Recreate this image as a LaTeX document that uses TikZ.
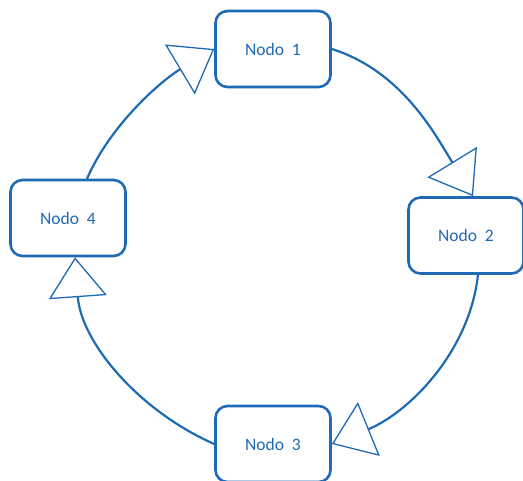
\documentclass[tikz,border=0pt]{standalone}
\usepackage{fontspec}
\newfontfamily\nodofont{Carlito}
\usepackage{tikz}
\usetikzlibrary{arrows.meta}
\definecolor{nodoblue}{RGB}{31,106,181}

\begin{document}
\begin{tikzpicture}[x=1pt,y=-1pt]
\tikzset{>={Triangle[length=40pt,width=58pt,fill=white,line width=1.3pt]}}
\tikzstyle{nodo} =[draw=nodoblue,line width=2.6pt,rounded corners=12pt,fill=white,minimum width=115pt,minimum height=76pt,text=nodoblue,font=\nodofont\fontsize{17.5}{20}\selectfont]

\useasboundingbox (0,0) rectangle (523,481);

\node[nodo](n1) at (273,49){Nodo\ \ 1};
\node[nodo](n2) at (466,235.5){Nodo\ \ 2};
\node[nodo](n3) at (273,444){Nodo\ \ 3};
\node[nodo](n4) at (68,218){Nodo\ \ 4};

\draw [->,nodoblue,line width=2.2pt] (n1.east) .. controls +(70,22) and +(-38,-62) .. ([xshift=7pt]n2.north);
\draw [->,nodoblue,line width=2.2pt] ([xshift=12pt]n2.south) .. controls +(-9,80) and +(74,-30) .. (n3.east);
\draw [->,nodoblue,line width=2.2pt] (n3.west) .. controls +(-77,-34) and +(6,84) .. ([xshift=7pt]n4.south);
\draw [->,nodoblue,line width=2.2pt] ([xshift=19pt]n4.north) .. controls +(24,-55) and +(-52,31) .. (n1.west);
\end{tikzpicture}
\end{document}
